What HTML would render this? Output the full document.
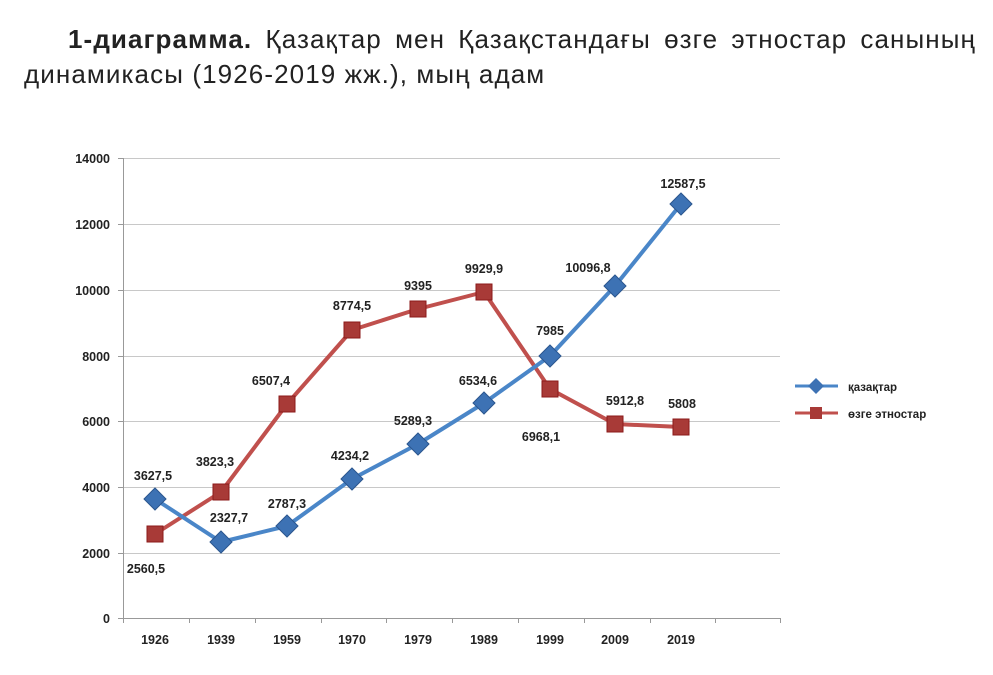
<!DOCTYPE html>
<html><head><meta charset="utf-8"><style>
body{margin:0;background:#fff;width:993px;height:675px;overflow:hidden;font-family:"Liberation Sans",sans-serif}
.t{position:absolute;font-size:26px;letter-spacing:1.1px;color:#222;line-height:35px;white-space:nowrap}
</style></head><body>
<div class="t" style="left:68px;top:22px;width:908px;text-align:justify;text-align-last:justify;"><b>1-диаграмма.</b> Қазақтар мен Қазақстандағы өзге этностар санының</div>
<div class="t" style="left:24px;top:57px;">динамикасы (1926-2019 жж.), мың адам</div>
<svg width="993" height="675" style="position:absolute;left:0;top:0" font-family="Liberation Sans, sans-serif" font-weight="bold" font-size="12.5" fill="#222">
<g stroke="#c8c8c8" stroke-width="1">
<line x1="123" y1="158.5" x2="780" y2="158.5"/><line x1="123" y1="224.5" x2="780" y2="224.5"/>
<line x1="123" y1="290.5" x2="780" y2="290.5"/><line x1="123" y1="356.5" x2="780" y2="356.5"/>
<line x1="123" y1="421.5" x2="780" y2="421.5"/><line x1="123" y1="487.5" x2="780" y2="487.5"/>
<line x1="123" y1="553.5" x2="780" y2="553.5"/>
</g>
<g stroke="#999" stroke-width="1">
<line x1="123" y1="618.5" x2="780" y2="618.5"/><line x1="123.5" y1="158" x2="123.5" y2="623"/>
<line x1="118" y1="158.5" x2="123" y2="158.5"/><line x1="118" y1="224.5" x2="123" y2="224.5"/><line x1="118" y1="290.5" x2="123" y2="290.5"/><line x1="118" y1="356.5" x2="123" y2="356.5"/><line x1="118" y1="421.5" x2="123" y2="421.5"/><line x1="118" y1="487.5" x2="123" y2="487.5"/><line x1="118" y1="553.5" x2="123" y2="553.5"/><line x1="118" y1="618.5" x2="123" y2="618.5"/>
<line x1="189.5" y1="618" x2="189.5" y2="623"/><line x1="255.5" y1="618" x2="255.5" y2="623"/><line x1="321.5" y1="618" x2="321.5" y2="623"/><line x1="386.5" y1="618" x2="386.5" y2="623"/><line x1="452.5" y1="618" x2="452.5" y2="623"/><line x1="518.5" y1="618" x2="518.5" y2="623"/><line x1="584.5" y1="618" x2="584.5" y2="623"/><line x1="650.5" y1="618" x2="650.5" y2="623"/><line x1="715.5" y1="618" x2="715.5" y2="623"/><line x1="780.5" y1="618" x2="780.5" y2="623"/>
</g>
<g text-anchor="end">
<text x="110" y="163">14000</text><text x="110" y="229">12000</text><text x="110" y="295">10000</text><text x="110" y="361">8000</text><text x="110" y="426">6000</text><text x="110" y="492">4000</text><text x="110" y="558">2000</text><text x="110" y="623">0</text>
</g>
<g text-anchor="middle">
<text x="155" y="644">1926</text><text x="221" y="644">1939</text><text x="287" y="644">1959</text><text x="352" y="644">1970</text><text x="418" y="644">1979</text><text x="484" y="644">1989</text><text x="550" y="644">1999</text><text x="615" y="644">2009</text><text x="681" y="644">2019</text>
</g>
<polyline fill="none" stroke="#c0504d" stroke-width="4" stroke-linejoin="round" points="155,534 221,492 287,404 352,330 418,309 484,292 550,389 615,424 681,427"/>
<polyline fill="none" stroke="#4a86c8" stroke-width="4" stroke-linejoin="round" points="155,499 221,542 287,526 352,479 418,444 484,403 550,356 615,286 681,204"/>
<g fill="#a83a37" stroke="#8b1a1a" stroke-width="1">
<rect x="147" y="526" width="16" height="16"/><rect x="213" y="484" width="16" height="16"/><rect x="279" y="396" width="16" height="16"/><rect x="344" y="322" width="16" height="16"/><rect x="410" y="301" width="16" height="16"/><rect x="476" y="284" width="16" height="16"/><rect x="542" y="381" width="16" height="16"/><rect x="607" y="416" width="16" height="16"/><rect x="673" y="419" width="16" height="16"/>
</g>
<g fill="#3d72b4" stroke="#2a568e" stroke-width="1">
<path d="M155,488l11,11l-11,11l-11,-11z"/><path d="M221,531l11,11l-11,11l-11,-11z"/><path d="M287,515l11,11l-11,11l-11,-11z"/><path d="M352,468l11,11l-11,11l-11,-11z"/><path d="M418,433l11,11l-11,11l-11,-11z"/><path d="M484,392l11,11l-11,11l-11,-11z"/><path d="M550,345l11,11l-11,11l-11,-11z"/><path d="M615,275l11,11l-11,11l-11,-11z"/><path d="M681,193l11,11l-11,11l-11,-11z"/>
</g>
<g text-anchor="middle">
<text x="153" y="480">3627,5</text><text x="229" y="522">2327,7</text><text x="287" y="508">2787,3</text><text x="350" y="460">4234,2</text><text x="413" y="425">5289,3</text><text x="478" y="385">6534,6</text><text x="550" y="335">7985</text><text x="588" y="272">10096,8</text><text x="683" y="188">12587,5</text>
<text x="146" y="573">2560,5</text><text x="215" y="466">3823,3</text><text x="271" y="385">6507,4</text><text x="352" y="310">8774,5</text><text x="418" y="290">9395</text><text x="484" y="273">9929,9</text><text x="541" y="441">6968,1</text><text x="625" y="405">5912,8</text><text x="682" y="408">5808</text>
</g>
<line x1="795" y1="386" x2="838" y2="386" stroke="#4a86c8" stroke-width="3"/>
<path d="M816,378l8,8l-8,8l-8,-8z" fill="#3d72b4"/>
<line x1="795" y1="413" x2="838" y2="413" stroke="#c0504d" stroke-width="3"/>
<rect x="810" y="407" width="12" height="12" fill="#a83a37"/>
<text x="848" y="391" font-size="11.5">қазақтар</text>
<text x="848" y="418" font-size="11.5">өзге этностар</text>
</svg>
</body></html>
